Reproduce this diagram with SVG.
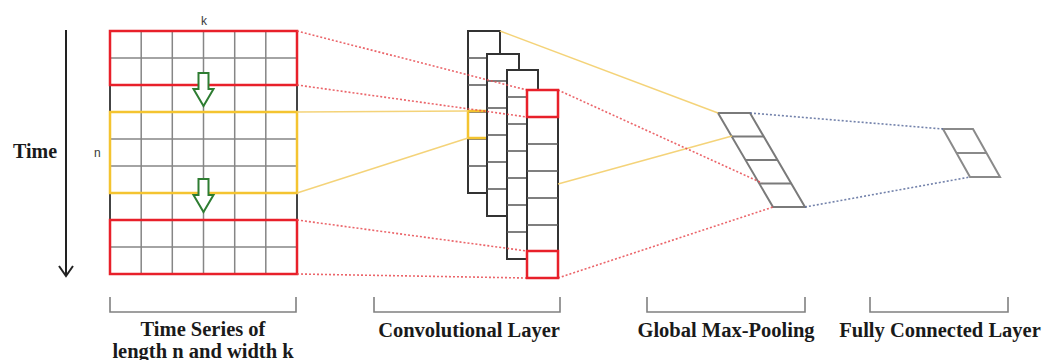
<svg xmlns="http://www.w3.org/2000/svg" width="1047" height="360" viewBox="0 0 1047 360">
  <style>
    .grid { stroke: #868686; stroke-width: 1.5; fill: none; }
    .edge { stroke: #444; stroke-width: 2; }
    .red { stroke: #e8202a; stroke-width: 2.5; fill: none; }
    .yel { stroke: #f4c430; stroke-width: 2.5; fill: none; }
    .col { fill: #fff; stroke: #333; stroke-width: 2; }
    .cell { stroke: #555; stroke-width: 1.5; }
    .down { fill: #fff; stroke: #2e7d32; stroke-width: 2; stroke-linejoin: miter; }
    .para { fill: none; stroke: #7a7a7a; stroke-width: 2; stroke-linejoin: miter; }
    .c-red { stroke: #e84a50; stroke-width: 1.6; stroke-dasharray: 2 2; fill: none; opacity: 0.85; }
    .c-yel { stroke: #f3ce6a; stroke-width: 1.5; fill: none; opacity: 0.9; }
    .c-blu { stroke: #5a6c9c; stroke-width: 1.6; stroke-dasharray: 2 2; fill: none; opacity: 0.85; }
    .brk { fill: none; stroke: #808080; stroke-width: 1.6; }
    .lbl { font-family: "Liberation Serif", "Times New Roman", serif; font-weight: bold; font-size: 20.5px; fill: #1a1a1a; text-anchor: middle; }
    .small { font-family: "Liberation Sans", Arial, sans-serif; font-size: 12px; fill: #3a3a3a; }
  </style>

  <!-- time axis -->
  <g id="time-axis">
    <text x="13" y="158" class="lbl" style="text-anchor:start;font-size:20px">Time</text>
    <line x1="66" y1="30" x2="66" y2="276" stroke="#222" stroke-width="2"/>
    <polyline points="59,266 66,276 73,266" fill="none" stroke="#222" stroke-width="2"/>
  </g>

  <!-- input time series grid: 6 columns x 9 rows -->
  <g id="time-series">
    <rect x="110" y="31" width="187" height="243" class="grid"/>
    <path class="grid" d="M141.2 31V274 M172.3 31V274 M203.5 31V274 M234.7 31V274 M265.8 31V274
      M110 58H297 M110 85H297 M110 112H297 M110 139H297 M110 166H297 M110 193H297 M110 220H297 M110 247H297"/>
    <path class="edge" d="M110 85V112 M297 85V112 M110 193V220 M297 193V220"/>
    <rect x="110" y="112" width="187" height="81" class="yel"/>
    <rect x="110" y="31" width="187" height="54" class="red"/>
    <rect x="110" y="220" width="187" height="54" class="red"/>
    <polygon class="down" points="198.5,73 208.5,73 208.5,89 213.5,89 203.5,106 193.5,89 198.5,89"/>
    <polygon class="down" points="198.5,179 208.5,179 208.5,195 213.5,195 203.5,212 193.5,195 198.5,195"/>
    <text x="204" y="25" class="small" text-anchor="middle">k</text>
    <text x="94" y="157" class="small">n</text>
  </g>

  <!-- convolutional feature maps, back to front -->
  <g id="conv-layer">
    <rect x="468" y="31" width="32" height="162" class="col"/>
    <path class="cell" d="M468 58H500 M468 85H500 M468 112H500 M468 139H500 M468 166H500"/>
    <rect x="468" y="111" width="32" height="27" class="yel"/>
    <rect x="487" y="54" width="32" height="162" class="col"/>
    <path class="cell" d="M487 81H519 M487 108H519 M487 135H519 M487 162H519 M487 189H519"/>
    <rect x="507" y="70" width="31" height="189" class="col"/>
    <path class="cell" d="M507 97H538 M507 124H538 M507 151H538 M507 178H538 M507 205H538 M507 232H538"/>
    <rect x="527" y="90" width="31" height="188" class="col"/>
    <path class="cell" d="M527 117H558 M527 144H558 M527 171H558 M527 198H558 M527 225H558 M527 251H558"/>
  </g>

  <!-- global max-pooling vector -->
  <g id="max-pooling">
    <polygon class="para" points="718,113 750,113 805,207 773,207"/>
    <path class="para" d="M731.7 136.5H763.7 M745.5 160H777.5 M759.3 183.5H791.3"/>
  </g>

  <!-- fully connected output -->
  <g id="fully-connected">
    <polygon class="para" points="943,129 973,129 1000,177 970,177" style="stroke:#8a8a8a"/>
    <line x1="956.5" y1="153" x2="986.5" y2="153" class="para" style="stroke:#8a8a8a"/>
  </g>

  <!-- connectors -->
  <g id="connectors">
    <path class="c-yel" d="M297 112L468 111 M297 193L468 138 M500 31L718 113 M558 184L732 136"/>
    <path class="c-red" d="M297 31L527 90 M297 85L527 117 M297 220L527 251 M297 274L527 278 M558 90L762 183 M558 278L773 207"/>
    <path class="c-blu" d="M750 113L943 129 M805 207L970 177"/>
  </g>

  <!-- highlighted output cells drawn above the connectors -->
  <g id="conv-highlights">
    <rect x="527" y="90" width="31" height="27" class="red"/>
    <rect x="527" y="251" width="31" height="27" class="red"/>
  </g>

  <!-- section brackets and captions -->
  <g id="captions">
    <path class="brk" d="M110 297V312H296V297 M374 297V312H560V297 M647 297V312H805V297 M870 297V312H1008V297"/>
    <text x="203" y="336" class="lbl">Time Series of</text>
    <text x="203" y="358" class="lbl">length n and width k</text>
    <text x="469" y="337" class="lbl">Convolutional Layer</text>
    <text x="726" y="337" class="lbl">Global Max-Pooling</text>
    <text x="940" y="337" class="lbl">Fully Connected Layer</text>
  </g>
</svg>
